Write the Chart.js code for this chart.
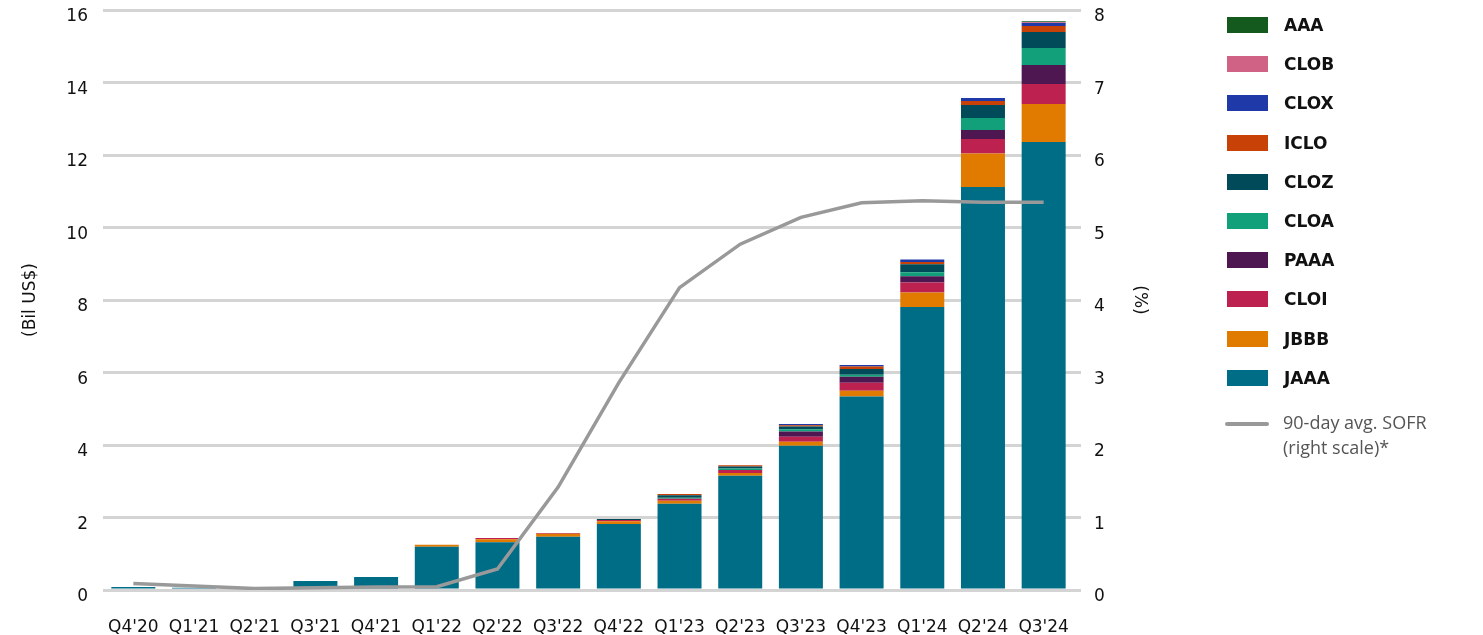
<!DOCTYPE html>
<html>
<head>
<meta charset="utf-8">
<script src="https://cdn.jsdelivr.net/npm/chart.js@4.4.1/dist/chart.umd.min.js"></script>
<style>
  html, body { margin: 0; padding: 0; background: #fff; }
  #wrap { position: relative; width: 1483px; height: 635px; }
  #legend { position: absolute; left: 1225px; top: 0; font-family: "DejaVu Sans", sans-serif; }
  .row { position: absolute; left: 0; height: 20px; display: flex; align-items: center; white-space: nowrap; }
  .sw { width: 41px; height: 16px; margin-left: 2px; margin-right: 16px; }
  .lab { font-size: 17px; font-weight: bold; color: #111; }
  .line { position: absolute; left: 0; width: 44px; height: 4px; border-radius: 2px; background: #999; }
  .sofr { position: absolute; left: 58px; font-family: "Open Sans", sans-serif; font-size: 18px; line-height: 25px; color: #555; white-space: nowrap; }
</style>
</head>
<body>
<div id="wrap">
  <canvas id="chart" width="1483" height="635"></canvas>
  <div id="legend"></div>
</div>
<script>
// quarters on the x axis
const quarters = ["Q4'20", "Q1'21", "Q2'21", "Q3'21", "Q4'21", "Q1'22", "Q2'22", "Q3'22",
                  "Q4'22", "Q1'23", "Q2'23", "Q3'23", "Q4'23", "Q1'24", "Q2'24", "Q3'24"];

// assets per ETF, bil US$ (stacked bottom to top)
const JAAA = [0.08, 0.06, 0.05, 0.25, 0.36, 1.19, 1.32, 1.47, 1.82, 2.38, 3.15, 3.98, 5.34, 7.81, 11.12, 12.36];
const JBBB = [0, 0, 0, 0, 0, 0.06, 0.08, 0.08, 0.08, 0.08, 0.08, 0.11, 0.16, 0.40, 0.92, 1.05];
const CLOI = [0, 0, 0, 0, 0, 0, 0.035, 0.02, 0.03, 0.055, 0.08, 0.14, 0.22, 0.27, 0.40, 0.55];
const PAAA = [0, 0, 0, 0, 0, 0, 0, 0, 0, 0, 0, 0.14, 0.16, 0.175, 0.25, 0.52];
const CLOA = [0, 0, 0, 0, 0, 0, 0, 0, 0, 0.03, 0.045, 0.065, 0.055, 0.11, 0.33, 0.47];
const CLOZ = [0, 0, 0, 0, 0, 0, 0, 0, 0.03, 0.07, 0.055, 0.075, 0.165, 0.22, 0.36, 0.44];
const ICLO = [0, 0, 0, 0, 0, 0, 0, 0, 0, 0.03, 0.03, 0.035, 0.063, 0.065, 0.11, 0.17];
const CLOX = [0, 0, 0, 0, 0, 0, 0, 0, 0, 0, 0, 0.035, 0.047, 0.065, 0.083, 0.083];
const CLOB = [0, 0, 0, 0, 0, 0, 0, 0, 0, 0, 0, 0, 0, 0, 0, 0.02];
const AAA  = [0, 0, 0, 0, 0, 0, 0, 0, 0, 0, 0, 0, 0, 0, 0, 0.025];

// 90-day average SOFR, % (right scale)
const sofr = [0.09, 0.055, 0.02, 0.03, 0.04, 0.045, 0.29, 1.42, 2.86, 4.17, 4.77, 5.14, 5.34, 5.37, 5.35, 5.35];

const leftTicks = [0, 2, 4, 6, 8, 10, 12, 14, 16];
const rightTicks = [0, 1, 2, 3, 4, 5, 6, 7, 8];

const series = [
  { label: 'JAAA', data: JAAA, color: '#006d87' },
  { label: 'JBBB', data: JBBB, color: '#e07b00' },
  { label: 'CLOI', data: CLOI, color: '#bc2150' },
  { label: 'PAAA', data: PAAA, color: '#4e1752' },
  { label: 'CLOA', data: CLOA, color: '#12a07a' },
  { label: 'CLOZ', data: CLOZ, color: '#004a5a' },
  { label: 'ICLO', data: ICLO, color: '#c84106' },
  { label: 'CLOX', data: CLOX, color: '#1f3aa8' },
  { label: 'CLOB', data: CLOB, color: '#d06385' },
  { label: 'AAA',  data: AAA,  color: '#145a1e' },
];

Chart.defaults.font.family = '"DejaVu Sans", sans-serif';
Chart.defaults.color = '#111';

const gridColor = '#d4d4d4';

const datasets = series.map((s) => ({
  type: 'bar',
  label: s.label,
  data: s.data,
  backgroundColor: s.color,
  borderWidth: 0,
  yAxisID: 'y',
  stack: 'etf',
  order: 1,
  categoryPercentage: 1,
  barPercentage: 0.725,
}));

datasets.push({
  type: 'line',
  label: '90-day avg. SOFR (right scale)*',
  data: sofr,
  borderColor: '#999',
  borderWidth: 3.5,
  pointRadius: 0,
  tension: 0,
  yAxisID: 'y1',
  order: 0,
});

// fixed axis box; keep the plot top close to the canvas edge
const fitY = (w) => (scale) => {
  scale.width = w;
  scale.paddingTop = 10;
  scale.paddingBottom = 0;
};

new Chart(document.getElementById('chart'), {
  data: { labels: quarters, datasets },
  options: {
    responsive: false,
    animation: false,
    layout: { padding: { top: 0, right: 323, left: 0, bottom: 0 } },
    plugins: { legend: { display: false }, tooltip: { enabled: false } },
    scales: {
      x: {
        stacked: true,
        grid: { display: false },
        border: { display: false },
        ticks: { autoSkip: false, maxRotation: 0, padding: 19, font: { size: 17 }, color: '#111' },
        afterFit: (scale) => { scale.height = 45; },
      },
      y: {
        stacked: true,
        position: 'left',
        min: 0,
        max: 16,
        afterBuildTicks: (scale) => { scale.ticks = leftTicks.map((v) => ({ value: v })); },
        grid: { color: gridColor, lineWidth: 3, drawTicks: false },
        border: { display: false },
        ticks: { padding: 15, labelOffset: 7, font: { size: 17 }, color: '#111' },
        title: { display: true, text: '(Bil US$)', font: { size: 17 }, color: '#111', padding: { top: 20, bottom: 0 } },
        afterFit: fitY(103),
      },
      y1: {
        position: 'right',
        min: 0,
        max: 8,
        afterBuildTicks: (scale) => { scale.ticks = rightTicks.map((v) => ({ value: v })); },
        grid: { drawOnChartArea: false, color: gridColor, lineWidth: 3, tickLength: 7 },
        border: { display: false },
        ticks: { padding: 13, labelOffset: 7, font: { size: 17 }, color: '#111' },
        title: { display: true, text: '(%)', font: { size: 17 }, color: '#111', padding: { top: 10, bottom: 0 } },
        afterFit: fitY(86),
      },
    },
  },
});

// legend on the right: bar series listed top of stack first, then the SOFR line
const legend = document.getElementById('legend');
series.slice().reverse().forEach((s, i) => {
  const row = document.createElement('div');
  row.className = 'row';
  row.style.top = (15 + i * 39.2) + 'px';
  row.innerHTML = '<div class="sw" style="background:' + s.color + '"></div><span class="lab">' + s.label + '</span>';
  legend.appendChild(row);
});
const line = document.createElement('div');
line.className = 'line';
line.style.top = '422px';
legend.appendChild(line);
const txt = document.createElement('div');
txt.className = 'sofr';
txt.style.top = '410px';
txt.innerHTML = '90-day avg. SOFR<br>(right scale)*';
legend.appendChild(txt);
</script>
</body>
</html>
